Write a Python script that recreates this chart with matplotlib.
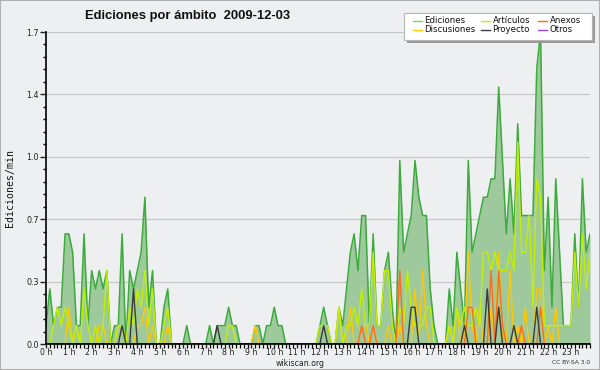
import matplotlib
matplotlib.use("Agg")
import matplotlib.pyplot as plt
from matplotlib.lines import Line2D
from matplotlib.patches import Rectangle
from matplotlib.ticker import FixedLocator, MultipleLocator, FuncFormatter
import numpy as np

# ---- data: edits per minute, one value per 10-minute slot (144 slots) ----
hours = list(range(24))
hour_labels = [f"{h} h" for h in hours]

ediciones = [
    0.1, 0.3, 0.1, 0.2, 0.2, 0.6,   # 0h
    0.6, 0.5, 0.1, 0.1, 0.6, 0.1,   # 1h
    0.4, 0.3, 0.4, 0.3, 0.4, 0.0,   # 2h
    0.1, 0.1, 0.6, 0.0, 0.4, 0.3,   # 3h
    0.4, 0.5, 0.8, 0.2, 0.4, 0.0,   # 4h
    0.0, 0.2, 0.3, 0.0, 0.0, 0.0,   # 5h
    0.0, 0.1, 0.0, 0.0, 0.0, 0.0,   # 6h
    0.0, 0.1, 0.0, 0.1, 0.1, 0.1,   # 7h
    0.2, 0.1, 0.1, 0.0, 0.0, 0.0,   # 8h
    0.0, 0.1, 0.1, 0.0, 0.1, 0.1,   # 9h
    0.2, 0.1, 0.1, 0.0, 0.0, 0.0,   # 10h
    0.0, 0.0, 0.0, 0.0, 0.0, 0.0,   # 11h
    0.1, 0.2, 0.1, 0.0, 0.0, 0.2,   # 12h
    0.1, 0.3, 0.5, 0.6, 0.4, 0.7,   # 13h
    0.7, 0.1, 0.6, 0.1, 0.1, 0.4,   # 14h
    0.5, 0.2, 0.0, 1.0, 0.5, 0.6,   # 15h
    0.7, 1.0, 0.8, 0.7, 0.7, 0.3,   # 16h
    0.1, 0.0, 0.0, 0.0, 0.3, 0.1,   # 17h
    0.5, 0.3, 0.1, 1.0, 0.5, 0.6,   # 18h
    0.7, 0.8, 0.8, 0.9, 0.9, 1.4,   # 19h
    1.0, 0.6, 0.9, 0.6, 1.2, 0.7,   # 20h
    0.7, 0.7, 0.7, 1.5, 1.7, 0.4,   # 21h
    0.8, 0.2, 0.9, 0.5, 0.1, 0.1,   # 22h
    0.1, 0.6, 0.2, 0.9, 0.5, 0.6,   # 23h
]

articulos = [
    0.0, 0.0, 0.1, 0.2, 0.1, 0.2,
    0.1, 0.0, 0.1, 0.0, 0.3, 0.1,
    0.0, 0.1, 0.0, 0.1, 0.4, 0.0,
    0.0, 0.1, 0.1, 0.0, 0.2, 0.1,
    0.3, 0.2, 0.4, 0.1, 0.3, 0.0,
    0.0, 0.1, 0.2, 0.0, 0.0, 0.0,
    0.0, 0.0, 0.0, 0.0, 0.0, 0.0,
    0.0, 0.0, 0.0, 0.0, 0.0, 0.0,
    0.1, 0.1, 0.0, 0.0, 0.0, 0.0,
    0.0, 0.0, 0.0, 0.0, 0.0, 0.0,
    0.0, 0.0, 0.0, 0.0, 0.0, 0.0,
    0.0, 0.0, 0.0, 0.0, 0.0, 0.0,
    0.1, 0.1, 0.1, 0.0, 0.0, 0.2,
    0.0, 0.1, 0.1, 0.2, 0.1, 0.3,
    0.1, 0.1, 0.5, 0.1, 0.1, 0.4,
    0.4, 0.1, 0.0, 0.2, 0.1, 0.4,
    0.2, 0.1, 0.1, 0.1, 0.2, 0.2,
    0.0, 0.0, 0.0, 0.0, 0.1, 0.0,
    0.2, 0.1, 0.2, 0.1, 0.1, 0.2,
    0.1, 0.5, 0.5, 0.4, 0.5, 0.4,
    0.4, 0.4, 0.5, 0.4, 1.1, 0.5,
    0.5, 0.7, 0.2, 0.9, 0.8, 0.1,
    0.1, 0.1, 0.1, 0.1, 0.1, 0.1,
    0.1, 0.5, 0.2, 0.6, 0.3, 0.5,
]

discusiones = [
    0.0, 0.0, 0.0, 0.0, 0.0, 0.0,
    0.2, 0.0, 0.1, 0.0, 0.0, 0.0,
    0.0, 0.0, 0.1, 0.1, 0.0, 0.0,
    0.0, 0.1, 0.1, 0.0, 0.0, 0.0,
    0.1, 0.1, 0.2, 0.0, 0.1, 0.0,
    0.0, 0.0, 0.1, 0.0, 0.0, 0.0,
    0.0, 0.0, 0.0, 0.0, 0.0, 0.0,
    0.0, 0.0, 0.0, 0.0, 0.0, 0.0,
    0.0, 0.0, 0.0, 0.0, 0.0, 0.0,
    0.0, 0.1, 0.0, 0.0, 0.0, 0.0,
    0.0, 0.0, 0.0, 0.0, 0.0, 0.0,
    0.0, 0.0, 0.0, 0.0, 0.0, 0.0,
    0.0, 0.0, 0.0, 0.0, 0.0, 0.2,
    0.0, 0.0, 0.2, 0.0, 0.0, 0.1,
    0.1, 0.0, 0.1, 0.0, 0.0, 0.0,
    0.1, 0.0, 0.0, 0.1, 0.0, 0.0,
    0.0, 0.3, 0.0, 0.4, 0.1, 0.0,
    0.0, 0.0, 0.0, 0.0, 0.1, 0.0,
    0.2, 0.0, 0.0, 0.5, 0.1, 0.0,
    0.2, 0.0, 0.0, 0.2, 0.0, 0.5,
    0.0, 0.0, 0.4, 0.0, 0.1, 0.0,
    0.2, 0.0, 0.0, 0.3, 0.3, 0.0,
    0.1, 0.0, 0.2, 0.0, 0.0, 0.0,
    0.0, 0.0, 0.0, 0.0, 0.0, 0.0,
]

anexos = [0.0] * 6 * 13 + [
    0.0, 0.0, 0.0, 0.0, 0.0, 0.1,   # 13h
    0.0, 0.0, 0.1, 0.0, 0.0, 0.0,   # 14h
    0.0, 0.0, 0.0, 0.4, 0.0, 0.0,   # 15h
    0.0, 0.0, 0.0, 0.0, 0.0, 0.0,   # 16h
    0.0, 0.0, 0.0, 0.0, 0.0, 0.0,   # 17h
    0.0, 0.0, 0.0, 0.2, 0.2, 0.0,   # 18h
    0.0, 0.0, 0.0, 0.4, 0.0, 0.4,   # 19h
    0.1, 0.0, 0.0, 0.0, 0.0, 0.1,   # 20h
    0.0, 0.0, 0.0, 0.0, 0.2, 0.0,   # 21h
    0.0, 0.0, 0.0, 0.0, 0.0, 0.0,   # 22h
    0.0, 0.0, 0.0, 0.0, 0.0, 0.0,   # 23h
]

proyecto = [
    0.0, 0.0, 0.0, 0.0, 0.0, 0.0,   # 0h
    0.0, 0.0, 0.0, 0.0, 0.0, 0.0,   # 1h
    0.0, 0.0, 0.0, 0.0, 0.0, 0.0,   # 2h
    0.0, 0.0, 0.1, 0.0, 0.0, 0.3,   # 3h
    0.0, 0.0, 0.0, 0.0, 0.0, 0.0,   # 4h
    0.0, 0.0, 0.0, 0.0, 0.0, 0.0,   # 5h
    0.0, 0.0, 0.0, 0.0, 0.0, 0.0,   # 6h
    0.0, 0.0, 0.0, 0.1, 0.0, 0.0,   # 7h
    0.0, 0.0, 0.0, 0.0, 0.0, 0.0,   # 8h
    0.0, 0.0, 0.0, 0.0, 0.0, 0.0,   # 9h
    0.0, 0.0, 0.0, 0.0, 0.0, 0.0,   # 10h
    0.0, 0.0, 0.0, 0.0, 0.0, 0.0,   # 11h
    0.0, 0.1, 0.0, 0.0, 0.0, 0.0,   # 12h
    0.0, 0.0, 0.0, 0.0, 0.0, 0.0,   # 13h
    0.0, 0.0, 0.0, 0.0, 0.0, 0.0,   # 14h
    0.0, 0.0, 0.0, 0.0, 0.0, 0.0,   # 15h
    0.2, 0.2, 0.0, 0.0, 0.0, 0.0,   # 16h
    0.0, 0.0, 0.0, 0.0, 0.0, 0.0,   # 17h
    0.0, 0.0, 0.1, 0.0, 0.0, 0.0,   # 18h
    0.0, 0.0, 0.3, 0.0, 0.0, 0.2,   # 19h
    0.0, 0.0, 0.0, 0.1, 0.0, 0.0,   # 20h
    0.0, 0.0, 0.0, 0.2, 0.0, 0.0,   # 21h
    0.0, 0.0, 0.0, 0.0, 0.0, 0.0,   # 22h
    0.0, 0.0, 0.0, 0.0, 0.0, 0.0,   # 23h
]

otros = [0.0] * 144

series_names = ["Ediciones", "Artículos", "Anexos", "Discusiones", "Proyecto", "Otros"]
series_colors = {
    "Ediciones": "#3CAB3C",
    "Artículos": "#C2F000",
    "Anexos": "#FF6A1E",
    "Discusiones": "#FFC800",
    "Proyecto": "#3A3A3A",
    "Otros": "#9A40FF",
}
legend_colors = dict(series_colors, Ediciones="#7FD07F")

title = "Ediciones por ámbito  2009-12-03"
ylabel = "Ediciones/min"

# ---- figure ----
W, H = 600, 370
BG = "#EEEFF1"
fig = plt.figure(figsize=(W / 100, H / 100), dpi=100, facecolor=BG)


def fx(px):
    return px / W


def fy(py):
    return 1 - py / H


ax = fig.add_axes([fx(46), fy(344), (590 - 46) / W, (344 - 32) / H])
ax.set_facecolor(BG)

x = np.arange(len(ediciones))
ymax = max(ediciones)
ax.set_xlim(0, len(ediciones) - 1)
ax.set_ylim(0, ymax)

# grid
yt = np.linspace(0, ymax, 6)
for v in yt[1:]:
    ax.axhline(v, color="#C9C9C9", lw=0.9, zorder=0.5)

ax.fill_between(x, ediciones, 0, color="#9DC99D", lw=0, zorder=1)
ax.plot(x, ediciones, color=series_colors["Ediciones"], lw=1.1, zorder=2)
ax.plot(x, discusiones, color=series_colors["Discusiones"], lw=1.0, zorder=2.1)
ax.plot(x, articulos, color=series_colors["Artículos"], lw=1.0, zorder=2.2)
ax.plot(x, anexos, color=series_colors["Anexos"], lw=1.0, zorder=2.3)
ax.plot(x, proyecto, color=series_colors["Proyecto"], lw=1.0, zorder=2.4)
ax.plot(x, otros, color=series_colors["Otros"], lw=1.0, zorder=1.5)

# axes styling
for s in ["top", "right"]:
    ax.spines[s].set_visible(False)
for s in ["left", "bottom"]:
    ax.spines[s].set_color("black")
    ax.spines[s].set_linewidth(1.2)
    ax.spines[s].set_zorder(3)

ax.yaxis.set_major_locator(FixedLocator(yt))
ax.yaxis.set_minor_locator(FixedLocator(np.linspace(0, ymax, 26)))
ax.yaxis.set_major_formatter(FuncFormatter(lambda v, p: f"{v:.1f}"))
ax.tick_params(axis="y", which="major", direction="out", length=4, width=1,
               labelsize=5.8, pad=1, colors="#222222")
ax.tick_params(axis="y", which="minor", direction="out", length=2.5, width=1)

ax.xaxis.set_major_locator(FixedLocator([h * 6 for h in hours]))
ax.xaxis.set_minor_locator(MultipleLocator(1))
ax.set_xticklabels(hour_labels)
ax.tick_params(axis="x", which="major", direction="out", length=3, width=1,
               labelsize=5.6, pad=0, colors="#222222")
ax.tick_params(axis="x", which="minor", direction="out", length=3, width=0.9)

fig.text(fx(10), fy(188), ylabel, rotation=90, ha="center", va="center",
         fontsize=7.1, family="DejaVu Sans Mono", color="#111111")

fig.text(fx(188), fy(15.5), title, ha="center", va="center",
         fontsize=9.4, fontweight="bold", family=["Liberation Sans", "DejaVu Sans"],
         color="#111111")

fig.text(fx(300), fy(363), "wikiscan.org", ha="center", va="center",
         fontsize=5.6, color="#222222")
fig.text(fx(590), fy(363), "CC BY-SA 3.0", ha="right", va="center",
         fontsize=4.3, color="#333333")

# legend box (manual)
lx0, ly0, lx1, ly1 = 404, 13, 592, 40
fig.patches.append(Rectangle((fx(lx0 + 3), fy(ly1 + 3)), (lx1 - lx0) / W, (ly1 - ly0) / H,
                             transform=fig.transFigure, facecolor="#9A9A9A",
                             edgecolor="none", zorder=5))
fig.patches.append(Rectangle((fx(lx0), fy(ly1)), (lx1 - lx0) / W, (ly1 - ly0) / H,
                             transform=fig.transFigure, facecolor="white",
                             edgecolor="#B5B5B5", lw=0.8, zorder=6))
col_x = [413, 481, 538]
row_y = [20.5, 29.5]
for k, name in enumerate(series_names):
    r, c = divmod(k, 3)
    xs = col_x[c]
    yy = row_y[r]
    fig.lines.append(Line2D([fx(xs), fx(xs + 9)], [fy(yy), fy(yy)],
                            transform=fig.transFigure, color=legend_colors[name],
                            lw=1.0, zorder=7))
    fig.text(fx(xs + 11.5), fy(yy), name, ha="left", va="center",
             fontsize=6.2, color="#111111", zorder=7)

# outer frame
fig.patches.append(Rectangle((0, 0), 1, 1, transform=fig.transFigure,
                             facecolor="none", edgecolor="#B0B0B0", lw=1.5, zorder=10))

fig.savefig("out.png", dpi=100, facecolor=BG)
